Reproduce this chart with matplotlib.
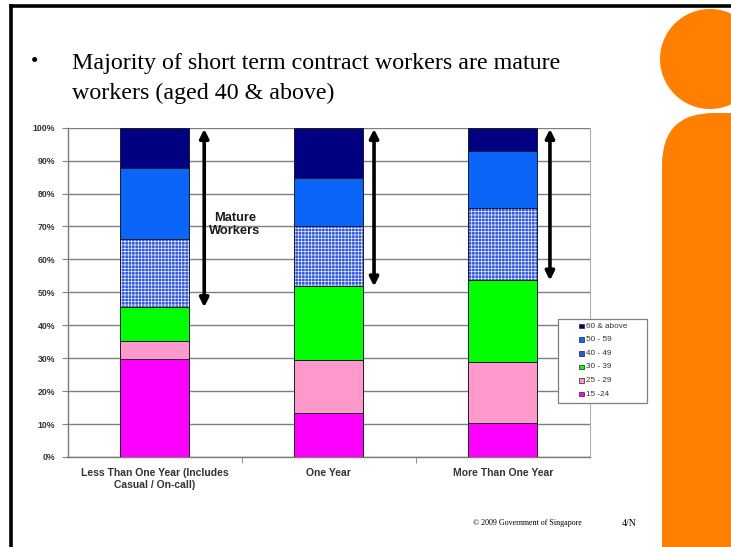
import matplotlib
matplotlib.use("Agg")
import matplotlib.pyplot as plt
import numpy as np
from matplotlib.patches import FancyBboxPatch, Circle, Rectangle
from matplotlib.lines import Line2D

# ---- data ----
categories = ["Less Than One Year (Includes\nCasual / On-call)", "One Year", "More Than One Year"]
age_groups = ["15 -24", "25 - 29", "30 - 39", "40 - 49", "50 - 59", "60 & above"]
share_15_24 = [29.9, 13.5, 10.4]
share_25_29 = [5.4, 15.9, 18.6]
share_30_39 = [10.2, 22.4, 24.6]
share_40_49 = [20.7, 18.4, 21.9]
share_50_59 = [21.5, 14.5, 17.5]
share_60_up = [12.3, 15.3, 7.0]
y_ticks = [0, 10, 20, 30, 40, 50, 60, 70, 80, 90, 100]
y_tick_labels = [f"{v}%" for v in y_ticks]

series = [share_15_24, share_25_29, share_30_39, share_40_49, share_50_59, share_60_up]
colors = ["#FF00FF", "#FF99CC", "#00FF00", "#2E55D8", "#0A66F8", "#000080"]
hatches = [None, None, None, "+++++", None, None]

plt.rcParams["hatch.linewidth"] = 0.55

W, H = 731, 547
fig = plt.figure(figsize=(W / 100, H / 100), dpi=100)
fig.patch.set_facecolor("white")

# ---- slide decoration (pixel coordinates) ----
bg = fig.add_axes([0, 0, 1, 1], zorder=-5)
bg.set_xlim(0, W)
bg.set_ylim(H, 0)
bg.axis("off")
bg.add_patch(Circle((710, 59), 50, color="#FF8000", lw=0))
bg.add_patch(FancyBboxPatch((662, 113), 200, 600,
                            boxstyle="round,pad=0,rounding_size=52",
                            color="#FF8000", lw=0))
bg.add_line(Line2D([11, 11], [6, H], color="black", lw=2.6))
bg.add_line(Line2D([11, W], [6, 6], color="black", lw=2.6))

serif = ["Liberation Serif", "DejaVu Serif"]
bg.text(35, 63, "\u2022", fontsize=15, family=serif, va="center", ha="center")
bg.text(72, 63, "Majority of short term contract workers are mature",
        fontsize=17.3, family=serif, va="center", ha="left")
bg.text(72, 93, "workers (aged 40 & above)",
        fontsize=17.3, family=serif, va="center", ha="left")
bg.text(473, 523, "\u00a9 2009 Government of Singapore", fontsize=5.8,
        family=serif, va="center", ha="left")
bg.text(622, 523, "4/N", fontsize=7, family=serif, va="center", ha="left")

# ---- chart ----
ax = fig.add_axes([67.5 / W, 1 - 457 / H, (590 - 67.5) / W, (457 - 127.7) / H])
x = np.arange(len(categories))
bw = 0.396
bottom = np.zeros(len(categories))
for vals, col, hat, lab in zip(series, colors, hatches, age_groups):
    vals = np.array(vals)
    if hat:
        ax.bar(x, vals, bw, bottom=bottom, facecolor=col, hatch=hat,
               edgecolor="#DDE6FF", lw=0, zorder=3, label=lab)
        ax.bar(x, vals, bw, bottom=bottom, facecolor="none",
               edgecolor="#1a1a2e", lw=0.7, zorder=4)
    else:
        ax.bar(x, vals, bw, bottom=bottom, color=col,
               edgecolor="#1a1a2e", lw=0.7, zorder=3, label=lab)
    bottom = bottom + vals

# arrows spanning the mature-worker share (40 & above)
mature_base = np.array(share_15_24) + np.array(share_25_29) + np.array(share_30_39)
arrow_dx = [0.285, 0.26, 0.27]
for xi, base, dx in zip(x, mature_base, arrow_dx):
    ax.annotate("", xy=(xi + dx, 99.6), xytext=(xi + dx, base),
                arrowprops=dict(arrowstyle="<|-|>", lw=2.6, color="black",
                                mutation_scale=13, shrinkA=0, shrinkB=0),
                zorder=6)
ax.text(0.46, 70.6, "Mature\nWorkers", ha="center", va="center",
        fontsize=9.3, fontweight="bold", family="Liberation Sans",
        color="#1a1a1a", linespacing=1.15, zorder=6)

ax.set_xlim(-0.5, 2.5)
ax.set_ylim(0, 100)
ax.set_yticks(y_ticks)
ax.set_yticklabels(y_tick_labels, fontsize=6.3, fontweight="bold",
                   family="Liberation Sans", color="#333333")
ax.set_xticks(x)
ax.set_xticklabels(categories, fontsize=7.5, fontweight="bold",
                   family="Liberation Sans", color="#333333", linespacing=1.2)
ax.set_xticks([0.5, 1.5], minor=True)
ax.tick_params(axis="x", which="major", length=0, pad=8)
ax.tick_params(axis="x", which="minor", length=4, color="#808080", direction="out")
ax.tick_params(axis="y", length=4, color="#808080", direction="out", pad=5)
ax.yaxis.grid(True, color="#7f7f7f", lw=1.0, zorder=0)
ax.set_axisbelow(True)
for side in ["left", "bottom"]:
    ax.spines[side].set_color("#7a7a7a")
    ax.spines[side].set_linewidth(1.0)
ax.spines["top"].set_visible(False)
ax.spines["right"].set_color("#b0b0b0")
ax.spines["right"].set_linewidth(0.8)

# ---- legend box, drawn in pixel coordinates on an overlay ----
lg = fig.add_axes([0, 0, 1, 1], zorder=10)
lg.set_xlim(0, W)
lg.set_ylim(H, 0)
lg.axis("off")
lg.add_patch(Rectangle((558, 319), 89, 84, facecolor="white",
                       edgecolor="#808080", lw=0.9))
row_y = 326
for lab, col in zip(age_groups[::-1], colors[::-1]):
    lg.add_patch(Rectangle((579, row_y - 2.3), 4.6, 4.6, facecolor=col,
                           edgecolor="#222222", lw=0.5))
    lg.text(585.5, row_y, lab, fontsize=5.9, family="Liberation Sans",
            color="#333333", va="center", ha="left")
    row_y += 13.6

fig.savefig("out.png", dpi=100)
